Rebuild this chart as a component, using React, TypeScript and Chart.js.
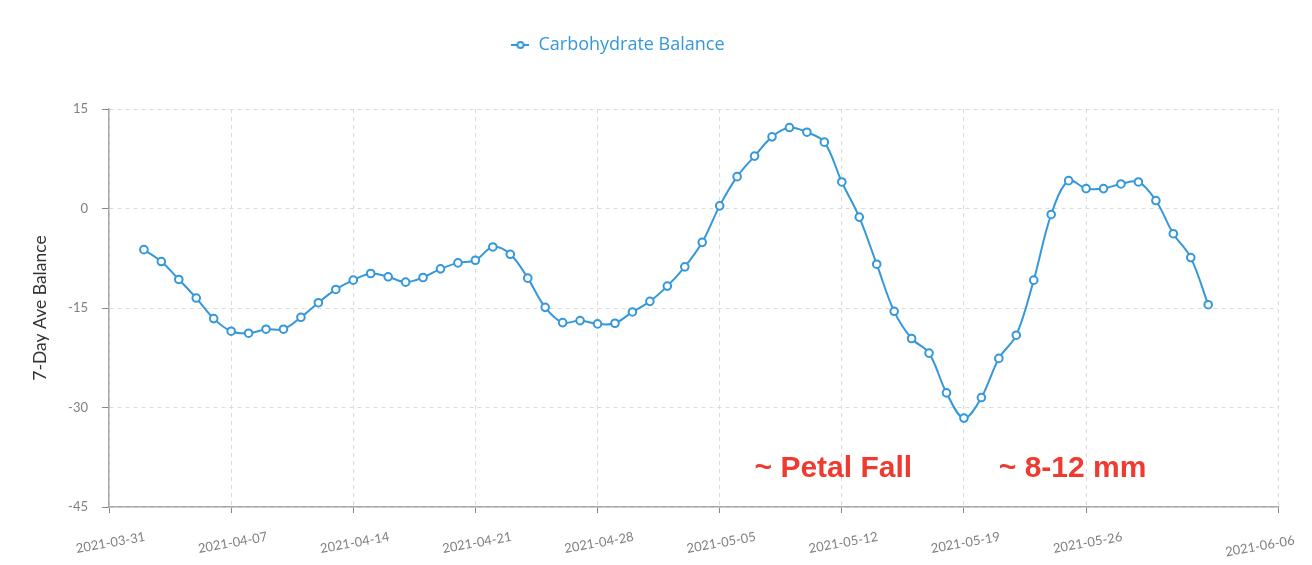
import React, { useEffect, useRef } from 'react';
import { Chart, registerables } from 'chart.js';

Chart.register(...registerables);

// ---- data ----
const axisStartDate = '2021-03-31';
const firstDataDate = '2021-04-02';
const seriesName = 'Carbohydrate Balance';
const balanceValues = [
  -6.2, -8.0, -10.7, -13.5, -16.6, -18.5, -18.8, -18.2, -18.2, -16.4,
  -14.2, -12.2, -10.8, -9.8, -10.3, -11.1, -10.4, -9.1, -8.2, -7.8,
  -5.8, -6.9, -10.5, -14.9, -17.2, -16.9, -17.4, -17.3, -15.6, -14.0,
  -11.7, -8.8, -5.1, 0.4, 4.8, 7.9, 10.8, 12.2, 11.5, 10.0,
  4.0, -1.3, -8.4, -15.5, -19.6, -21.8, -27.8, -31.6, -28.5, -22.6,
  -19.1, -10.8, -0.9, 4.2, 3.0, 3.0, 3.7, 4.0, 1.2, -3.8,
  -7.4, -14.5,
];
const xTickLabels = [
  '2021-03-31', '2021-04-07', '2021-04-14', '2021-04-21', '2021-04-28',
  '2021-05-05', '2021-05-12', '2021-05-19', '2021-05-26', '2021-06-06',
];
const yTickValues = [15, 0, -15, -30, -45];
const yAxisTitle = '7-Day Ave Balance';
const annotationTexts = ['~ Petal Fall', '~ 8-12 mm'];
const annotationDates = ['2021-05-07', '2021-05-21'];
const annotationValues = [-40.5, -40.5];

// ---- helpers ----
const DAY = 86400000;
const dayOf = (d: string) => Math.round((Date.parse(d + 'T00:00:00Z') - Date.parse(axisStartDate + 'T00:00:00Z')) / DAY);
const labelOf = (v: number) => new Date(Date.parse(axisStartDate + 'T00:00:00Z') + v * DAY).toISOString().slice(0, 10);

const BLUE = '#3498db';
const RED = '#ef3a30';

export default function App() {
  const ref = useRef<HTMLCanvasElement | null>(null);

  useEffect(() => {
    if (!ref.current) return;
    const start = dayOf(firstDataDate);
    const points = balanceValues.map((v, i) => ({ x: start + i, y: v }));
    const lastTick = dayOf(xTickLabels[xTickLabels.length - 1]);

    const marker = document.createElement('canvas');
    marker.width = 18;
    marker.height = 10;
    const m = marker.getContext('2d')!;
    m.strokeStyle = BLUE;
    m.lineWidth = 2;
    m.beginPath();
    m.moveTo(0, 5);
    m.lineTo(18, 5);
    m.stroke();
    m.beginPath();
    m.arc(9, 5, 3, 0, Math.PI * 2);
    m.fillStyle = '#fff';
    m.fill();
    m.stroke();

    const layoutPlugin = {
      id: 'legendSpacing',
      beforeInit(chart: any) {
        const orig = chart.legend.fit;
        chart.legend.fit = function () {
          orig.call(this);
          this.height += 45;
        };
      },
      afterLayout(chart: any) {
        chart.legend.right -= 42;
      },
    };

    const notesPlugin = {
      id: 'notes',
      afterDatasetsDraw(chart: any) {
        const { ctx, scales } = chart;
        ctx.save();
        ctx.font = 'bold 30px "Liberation Sans", Arial, sans-serif';
        ctx.fillStyle = RED;
        ctx.textAlign = 'left';
        ctx.textBaseline = 'alphabetic';
        annotationTexts.forEach((t, i) => {
          ctx.fillText(t, scales.x.getPixelForValue(dayOf(annotationDates[i])), scales.y.getPixelForValue(annotationValues[i]));
        });
        ctx.restore();
      },
    };

    const chart = new Chart(ref.current, {
      type: 'line',
      data: {
        datasets: [
          {
            label: seriesName,
            data: points,
            borderColor: BLUE,
            backgroundColor: '#ffffff',
            borderWidth: 2,
            pointRadius: 3.8,
            pointBorderWidth: 2,
            pointBackgroundColor: '#ffffff',
            pointBorderColor: BLUE,
            tension: 0.35,
            fill: false,
          },
        ],
      },
      options: {
        animation: false,
        responsive: false,
        layout: { padding: { top: 26, right: 34, bottom: 0, left: 0 } },
        plugins: {
          legend: {
            position: 'top',
            labels: {
              usePointStyle: true,
              pointStyle: marker as any,
              pointStyleWidth: 18,
              color: BLUE,
              font: { family: 'Open Sans', size: 18 },
              padding: 10,
            },
          },
          tooltip: { enabled: false },
        },
        scales: {
          x: {
            type: 'linear',
            min: dayOf(xTickLabels[0]),
            max: lastTick,
            afterBuildTicks: (s: any) => {
              s.ticks = xTickLabels.map((l) => ({ value: dayOf(l) }));
            },
            afterFit: (s: any) => {
              s.height = 58;
            },
            ticks: {
              callback: (v: any) => {
                const lbl = labelOf(Number(v));
                return Number(v) === lastTick ? lbl + '      ' : lbl;
              },
              minRotation: 10,
              maxRotation: 10,
              autoSkip: false,
              labelOffset: 36,
              padding: 16,
              color: '#808080',
              font: { family: 'Lato', size: 13 },
            },
            grid: {
              color: '#dadada',
              lineWidth: 1,
              tickColor: '#888',
              tickLength: 6,
              tickBorderDash: [],
            } as any,
            border: { color: '#a8a8a8', width: 1.5, dash: [4, 4] },
          },
          y: {
            min: -45,
            max: 15,
            afterBuildTicks: (s: any) => {
              s.ticks = yTickValues.map((v) => ({ value: v }));
            },
            afterFit: (s: any) => {
              s.width = 109;
            },
            ticks: {
              color: '#808080',
              padding: 14,
              font: { family: 'Lato', size: 13 },
            },
            grid: {
              color: '#dadada',
              lineWidth: 1,
              tickColor: '#888',
              tickLength: 7,
              tickBorderDash: [],
            } as any,
            border: { color: '#a8a8a8', width: 1.5, dash: [4, 4] },
            title: {
              display: true,
              text: yAxisTitle,
              color: '#333',
              font: { family: 'Lato', size: 17.5 },
              padding: { top: 30, bottom: 0 },
            },
          },
        },
      },
      plugins: [layoutPlugin, notesPlugin],
    } as any);

    return () => chart.destroy();
  }, []);

  return (
    <div style={{ position: 'fixed', left: 0, top: 0, width: 1312, height: 565, background: '#fff' }}>
      <canvas ref={ref} width={1312} height={565} style={{ width: 1312, height: 565, display: 'block' }} />
    </div>
  );
}
